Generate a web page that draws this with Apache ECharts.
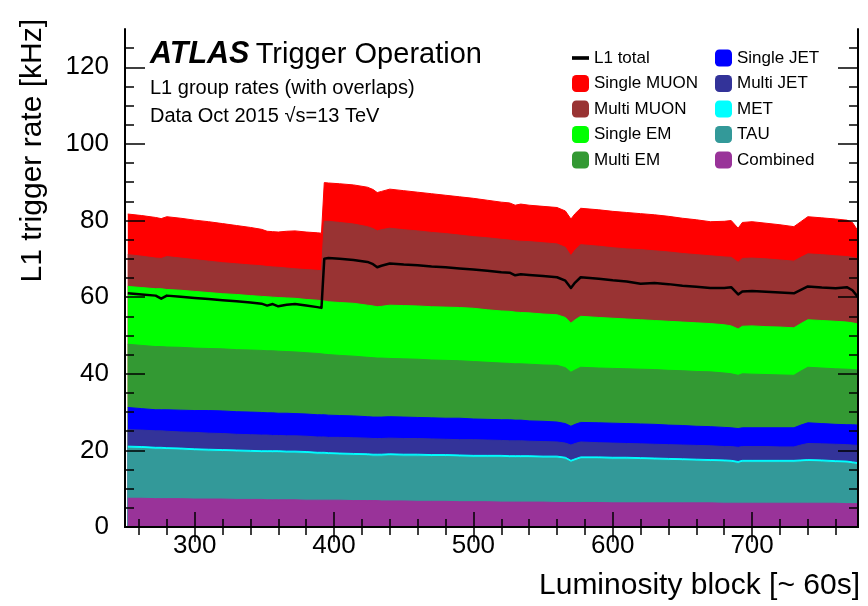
<!DOCTYPE html>
<html><head><meta charset="utf-8">
<script src="https://cdn.jsdelivr.net/npm/echarts@6/dist/echarts.min.js"></script>
<style>html,body{margin:0;padding:0;background:#fff}#c{width:868px;height:606px}</style>
</head><body><div id="c"></div><script>
const lumiBlocks = [252,262,272,276,280,290,300,310,320,330,340,348,352,356,360,366,372,380,388,391,393,396,404,414,424,428,431,434,440,450,460,470,480,490,500,510,520,526,530,534,540,550,560,566,570,573,577,590,600,610,620,630,640,650,660,670,680,685,690,693,700,710,720,730,735,740,750,760,768,772,776];

const combinedRate = [7.5,7.5,7.4,7.4,7.4, 7.4,7.3,7.3,7.3,7.2, 7.2,7.2,7.1,7.1,7.1, 7.1,7.1,7.0,7.0,7.0, 7.0,7.0,7.0,6.9,6.9, 6.9,6.9,6.8,6.8,6.8, 6.7,6.7,6.7,6.6,6.6, 6.6,6.5,6.5,6.5,6.5, 6.5,6.5,6.4,6.4,6.4, 6.4,6.4,6.4,6.3,6.3, 6.3,6.3,6.3,6.3,6.3, 6.3,6.2,6.2,6.2,6.2, 6.2,6.2,6.2,6.2,6.2, 6.2,6.2,6.2,6.1,6.1, 6.1];
const tauRate = [13.1,13.0,12.9,12.9,12.8, 12.7,12.6,12.5,12.4,12.4, 12.3,12.2,12.3,12.3,12.3, 12.2,12.2,12.2,12.0,12.0, 12.0,11.9,11.8,11.8,11.7, 11.6,11.6,11.7,11.8,11.7, 11.8,11.7,11.7,11.7,11.6, 11.6,11.7,11.6,11.6,11.6, 11.6,11.5,11.6,11.3,10.5, 10.9,11.4,11.4,11.4,11.4, 11.3,11.2,11.1,11.0,10.9, 10.8,10.8,10.7,10.4,10.7, 10.7,10.7,10.7,10.7,10.8, 10.9,10.8,10.6,10.6,10.4, 10.2];
const metRate = [0.5,0.5,0.5,0.5,0.5, 0.5,0.5,0.5,0.5,0.5, 0.5,0.5,0.5,0.5,0.5, 0.5,0.5,0.5,0.5,0.5, 0.5,0.5,0.5,0.5,0.5, 0.5,0.5,0.5,0.5,0.5, 0.5,0.5,0.5,0.5,0.5, 0.5,0.5,0.5,0.5,0.5, 0.5,0.5,0.5,0.5,0.5, 0.5,0.5,0.5,0.5,0.5, 0.5,0.5,0.5,0.5,0.5, 0.5,0.5,0.5,0.5,0.5, 0.5,0.5,0.5,0.5,0.5, 0.5,0.5,0.5,0.5,0.5, 0.5];
const multiJetRate = [4.3,4.3,4.3,4.3,4.3, 4.2,4.3,4.2,4.2,4.1, 4.1,4.1,4.1,4.0,4.0, 4.0,4.0,4.0,4.0,4.0, 4.0,4.0,4.1,4.1,4.1, 4.1,4.1,4.1,4.1,4.1, 4.1,4.1,4.0,4.0,4.1, 4.0,3.9,3.9,3.9,3.9, 3.8,3.8,3.7,3.7,4.0, 4.0,3.9,3.7,3.7,3.6, 3.6,3.6,3.6,3.6,3.6, 3.6,3.5,3.6,3.7,3.6, 3.6,3.6,3.5,3.5,3.9, 4.2,4.2,4.3,4.3,4.4, 4.5];
const singleJetRate = [5.8,5.6,5.5,5.5,5.6, 5.7,5.7,5.9,5.9,5.9, 5.9,5.9,5.8,5.9,5.8, 5.9,5.8,5.8,5.8,5.8, 5.8,5.8,5.7,5.7,5.6, 5.6,5.6,5.6,5.6,5.6, 5.5,5.5,5.5,5.6,5.4, 5.4,5.4,5.5,5.4,5.4, 5.3,5.3,5.2,5.1,4.9, 5.0,5.1,5.2,5.2,5.2, 5.2,5.2,5.1,5.1,5.0, 5.0,5.0,4.9,4.9,4.9, 4.9,4.9,5.0,5.0,5.2, 5.4,5.3,5.2,5.2,5.3, 5.3];
const multiEMRate = [16.5,16.5,16.5,16.5,16.4, 16.4,16.3,16.2,16.2,16.2, 16.2,16.2,16.2,16.2,16.2, 16.1,16.1,16.0,16.0,15.9, 15.8,15.8,15.7,15.6,15.5, 15.5,15.4,15.4,15.2,15.2, 15.2,15.1,15.1,15.0,15.0, 14.9,14.8,14.7,14.7,14.7, 14.8,14.7,14.8,14.6,14.1, 14.2,14.4,14.3,14.3,14.3, 14.3,14.3,14.3,14.3,14.3, 14.3,14.2,14.1,13.9,14.1, 14.0,13.9,13.8,13.7,14.1, 14.5,14.5,14.5,14.5,14.4, 14.4];
const singleEMRate = [15.1,15.1,15.1,15.1,15.0, 14.9,14.8,14.6,14.4,14.4, 14.2,14.1,14.1,14.0,14.0, 14.0,14.0,13.9,13.9,13.9, 13.9,13.8,13.8,13.8,13.6, 13.5,13.4,13.5,13.9,13.9, 13.9,13.9,13.9,13.9,13.9, 13.7,13.6,13.6,13.5,13.4, 13.4,13.3,13.2,13.1,12.8, 13.1,13.3,13.2,13.1,13.0, 12.9,12.8,12.8,12.7,12.7, 12.6,12.6,12.5,12.1,12.4, 12.6,12.5,12.5,12.4,12.4, 12.4,12.4,12.4,12.3,12.2, 12.0];
const multiMuonRate = [8.3,8.2,8.0,7.9,8.6, 8.4,8.3,8.2,8.1,8.0, 8.0,8.0,7.9,7.9,7.9, 7.8,7.7,7.8,7.8,7.8, 20.8,21.0,20.9,20.7,20.5, 20.2,19.8,20.0,20.1,19.8, 19.6,19.4,19.2,18.9,18.7, 18.8,18.7,18.6,18.6,18.6, 18.6,18.6,18.5,18.3,17.6, 18.2,18.7,18.6,18.4,18.3, 18.3,18.2,18.1,17.9,17.8, 17.7,17.7,17.9,17.4,17.7, 17.7,17.7,17.5,17.4,17.3, 17.2,17.2,17.1,17.1,17.1, 17.0];
const singleMuonRate = [10.6,10.6,10.6,10.4,10.4, 10.4,10.3,10.3,10.2,10.0, 9.8,9.5,9.2,9.2,9.2, 9.6,9.9,9.8,9.8,9.8, 10.1,10.0,10.1,10.2,10.3, 10.2,10.0,10.0,10.2,10.2, 10.1,10.1,10.0,10.0,10.0, 9.8,9.7,9.7,9.3,9.7, 9.5,9.5,9.5,9.5,9.6, 9.5,9.5,9.5,9.5,9.5, 9.4,9.4,9.3,9.2,9.1, 8.9,9.3,9.6,8.9,9.4, 9.5,9.3,9.2,9.0,9.3, 9.7,9.6,9.6,9.5,9.1, 7.3];
const l1TotalRate = [61.0,60.7,60.4,59.6,60.4, 60.1,59.8,59.5,59.2,58.9, 58.6,58.3,57.8,58.2,57.6, 58.0,58.2,57.8,57.4,57.2, 70.0,70.2,70.0,69.7,69.2, 68.6,67.8,68.2,68.8,68.5, 68.3,68.0,67.8,67.5,67.2, 66.9,66.5,66.4,65.7,66.0, 65.8,65.5,65.2,64.3,62.4, 63.8,65.2,64.8,64.4,64.1, 63.5,63.7,63.4,63.0,62.7, 62.4,62.4,62.6,60.7,61.5, 61.6,61.4,61.2,61.0,61.9, 62.8,62.5,62.3,62.6,61.8, 60.0];

const xMajorTicks = [300,400,500,600,700];
const xMinorTicks = [260,280,320,340,360,380,420,440,460,480,520,540,560,580,620,640,660,680,720,740,760];
const yMajorTicks = [0,20,40,60,80,100,120];
const yMinorTicks = [5,10,15,25,30,35,45,50,55,65,70,75,85,90,95,105,110,115,125];

const FONT = '"Liberation Sans", Arial, Helvetica, sans-serif';

// stacking order: bottom -> top
const layers = [
  {name:'Combined', data:combinedRate, color:'#993399'},
  {name:'TAU', data:tauRate, color:'#339999'},
  {name:'MET', data:metRate, color:'#00ffff'},
  {name:'Multi JET', data:multiJetRate, color:'#333399'},
  {name:'Single JET', data:singleJetRate, color:'#0000ff'},
  {name:'Multi EM', data:multiEMRate, color:'#339933'},
  {name:'Single EM', data:singleEMRate, color:'#00ff00'},
  {name:'Multi MUON', data:multiMuonRate, color:'#993333'},
  {name:'Single MUON', data:singleMuonRate, color:'#ff0000'}
];

// cumulative tops (THStack-like), drawn from top layer down, each filled to 0
const running = lumiBlocks.map(() => 0);
const stacked = layers.map(l => {
  const tops = l.data.map((v, i) => { running[i] += v; return running[i]; });
  return {name:l.name, color:l.color, tops:tops};
});

const series = stacked.slice().reverse().map(s => ({
  name: s.name,
  type: 'line',
  xAxisIndex: 0, yAxisIndex: 0,
  data: lumiBlocks.map((x, i) => [x, +s.tops[i].toFixed(2)]),
  showSymbol: false, symbol: 'none',
  color: s.color,
  itemStyle: {color: s.color},
  lineStyle: {width: 1, color: s.color},
  areaStyle: {color: s.color, opacity: 1, origin: 'start'},
  silent: true, animation: false
}));
series.push({
  name: 'L1 total',
  type: 'line',
  xAxisIndex: 0, yAxisIndex: 0,
  data: lumiBlocks.map((x, i) => [x, l1TotalRate[i]]),
  showSymbol: false, symbol: 'none',
  color: '#000',
  itemStyle: {color: '#000'},
  lineStyle: {width: 2.5, color: '#000', join: 'round'},
  z: 5, silent: true, animation: false
});

const axisLineStyle = {show: true, lineStyle: {color: '#000', width: 2}};
function xAx(pos, ticks, len, withLabel, line) {
  return {
    type: 'value', min: 250, max: 776, position: pos, gridIndex: 0, z: 10,
    axisLine: line ? axisLineStyle : {show: false},
    axisTick: {show: true, inside: true, length: len, customValues: ticks, lineStyle: {color: '#000', width: 1.5}},
    axisLabel: withLabel ? {show: true, customValues: ticks, fontSize: 26, fontFamily: FONT, color: '#000', margin: 6} : {show: false},
    splitLine: {show: false}
  };
}
function yAx(pos, ticks, len, withLabel, line) {
  return {
    type: 'value', min: 0, max: 130, position: pos, gridIndex: 0, z: 10,
    axisLine: line ? axisLineStyle : {show: false},
    axisTick: {show: true, inside: true, length: len, customValues: ticks, lineStyle: {color: '#000', width: 1.5}},
    axisLabel: withLabel ? {show: true, customValues: ticks, fontSize: 26, fontFamily: FONT, color: '#000', margin: 16} : {show: false},
    splitLine: {show: false}
  };
}

const legendCommon = {
  orient: 'vertical', padding: 0, itemWidth: 17, itemHeight: 17, itemGap: 8.5,
  icon: 'roundRect', selectedMode: false,
  itemStyle: {borderWidth: 0},
  textStyle: {fontSize: 17, fontFamily: FONT, color: '#000', lineHeight: 17}
};

const option = {
  backgroundColor: '#fff',
  animation: false,
  grid: {left: 125, right: 10, top: 29, bottom: 79, containLabel: false},
  xAxis: [
    xAx('bottom', xMajorTicks, 15, true, true),
    xAx('bottom', xMinorTicks, 8, false, false),
    xAx('top', xMajorTicks, 15, false, true),
    xAx('top', xMinorTicks, 8, false, false)
  ],
  yAxis: [
    yAx('left', yMajorTicks, 20, true, true),
    yAx('left', yMinorTicks, 9, false, false),
    yAx('right', yMajorTicks, 20, false, true),
    yAx('right', yMinorTicks, 9, false, false)
  ],
  legend: [
    Object.assign({}, legendCommon, {left: 572, top: 49.5,
      data: [{name: 'L1 total', icon: 'path://M0,0h14v3h-14z'}, 'Single MUON', 'Multi MUON', 'Single EM', 'Multi EM']}),
    Object.assign({}, legendCommon, {left: 715, top: 49.5,
      data: ['Single JET', 'Multi JET', 'MET', 'TAU', 'Combined']})
  ],
  graphic: [
    {type: 'text', x: 150, y: 40, z: 100, style: {
      text: '{a|ATLAS} {b|Trigger Operation}', verticalAlign: 'top',
      rich: {
        a: {fontStyle: 'italic', fontWeight: 'bold', fontSize: 30.5, fontFamily: FONT, fill: '#000', padding: [0, 3, 0, 0]},
        b: {fontSize: 29, fontFamily: FONT, fill: '#000'}
      }}},
    {type: 'text', x: 150, y: 78, z: 100, style: {text: 'L1 group rates (with overlaps)', fontSize: 20, fontFamily: FONT, fill: '#000', verticalAlign: 'top'}},
    {type: 'text', x: 150, y: 106, z: 100, style: {text: 'Data Oct 2015 \u221As=13 TeV', fontSize: 20, fontFamily: FONT, fill: '#000', verticalAlign: 'top'}},
    {type: 'text', x: 32.5, y: 19, rotation: Math.PI / 2, z: 100, style: {text: 'L1 trigger rate [kHz]', fontSize: 30, fontFamily: FONT, fill: '#000', align: 'right', verticalAlign: 'middle'}},
    {type: 'text', x: 860, y: 585.5, z: 100, style: {text: 'Luminosity block [~ 60s]', fontSize: 30, fontFamily: FONT, fill: '#000', align: 'right', verticalAlign: 'middle'}}
  ],
  series: series
};

const chart = echarts.init(document.getElementById('c'), null, {renderer: 'canvas'});
chart.setOption(option);
</script></body></html>
